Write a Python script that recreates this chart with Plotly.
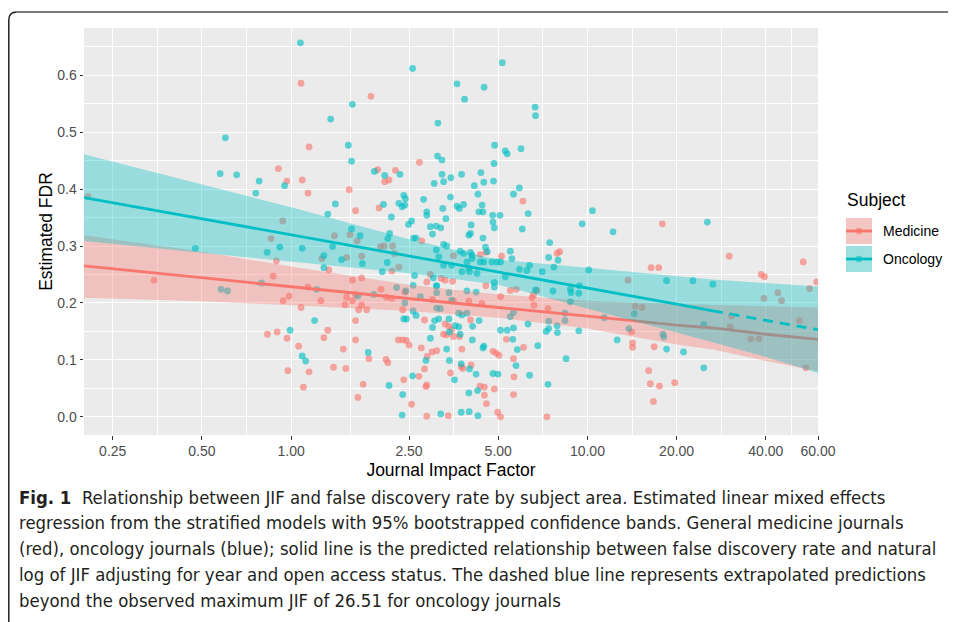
import numpy as np
import plotly.graph_objects as go

# ---------------- data ----------------
med_jif = [0.206, 0.345, 1.08, 1.86, 1.15, 0.906, 2.71,
           0.967, 1.09, 1.14, 1.57, 1.65, 1.96, 2.07, 2.14, 2.25, 1.98, 2.0, 2.06, 2.2, 2.23, 2.31, 2.19,
           1.58, 1.67, 1.4, 1.54, 1.73, 1.27, 1.34, 1.61, 1.73, 0.856, 0.937, 0.892, 0.87, 1.14, 0.983, 0.94,
           1.65, 1.54, 1.61, 2.01, 2.1, 2.19,
           1.26, 1.08, 1.52, 1.69, 1.73, 1.8, 1.65, 0.832, 0.897, 0.969, 1.33, 1.29, 1.65, 1.06, 1.5, 1.83,
           2.09, 2.12, 0.975, 1.15, 1.39, 1.53, 1.1, 1.75, 1.68, 2.3,
           6.06, 2.76, 4.35, 4.55, 5.13, 7.9, 8.06, 3.53, 2.95, 3.21, 3.31, 3.51, 4.54, 5.49, 5.75, 2.87,
           2.42, 5.09, 6.57, 7.36, 6.75, 6.5, 6.6,
           2.38, 2.82, 4.03, 3.31, 3.41, 3.48, 3.27, 3.35, 3.53, 3.70, 2.38, 2.45, 2.5, 2.75, 3.77, 4.8,
           4.92, 5.03, 3.1, 2.99, 2.88, 3.75, 3.8, 4.05, 5.33, 6.09, 5.63, 5.65, 5.63, 4.34, 4.49, 4.49,
           4.56, 4.85, 3.45, 2.82, 2.85, 2.87, 2.7, 2.4, 2.55, 2.87, 3.39, 4.98, 5.09, 7.3,
           3.53, 3.98, 3.0, 4.4,
           17.9, 30.1, 53.5, 16.4, 17.4, 38.6, 39.6, 59.4, 13.7, 43.9, 39.4, 45.2, 56.2, 30.6, 30.3, 35.6,
           37.9, 51.9, 54.6, 14.5, 15.3, 14.1, 14.2, 14.2, 16.8, 16.1, 16.3, 17.5, 16.7, 19.7]
med_fdr = [0.387, 0.240, 0.586, 0.563, 0.474, 0.436, 0.447,
           0.414, 0.416, 0.393, 0.399, 0.362, 0.434, 0.413, 0.416, 0.433, 0.367, 0.299, 0.300, 0.300, 0.287, 0.263, 0.256,
           0.320, 0.309, 0.318, 0.280, 0.282, 0.278, 0.258, 0.240, 0.244, 0.313, 0.344, 0.274, 0.247, 0.228, 0.212, 0.204,
           0.215, 0.210, 0.204, 0.224, 0.210, 0.208,
           0.204, 0.192, 0.197, 0.188, 0.196, 0.188, 0.169, 0.145, 0.149, 0.138, 0.152, 0.139, 0.135, 0.124, 0.119, 0.102,
           0.101, 0.095, 0.081, 0.079, 0.087, 0.085, 0.052, 0.057, 0.034, 0.135,
           0.379, 0.309, 0.285, 0.289, 0.282, 0.287, 0.290, 0.283, 0.250, 0.243, 0.240, 0.238, 0.230, 0.222, 0.224, 0.237,
           0.219, 0.211, 0.214, 0.190, 0.222, 0.209, 0.196,
           0.188, 0.170, 0.170, 0.163, 0.159, 0.153, 0.145, 0.144, 0.141, 0.141, 0.135, 0.134, 0.126, 0.121, 0.119, 0.115,
           0.112, 0.108, 0.116, 0.114, 0.106, 0.088, 0.085, 0.091, 0.136, 0.122, 0.102, 0.070, 0.039, 0.054, 0.052, 0.038,
           0.023, 0.049, 0.077, 0.084, 0.053, 0.056, 0.071, 0.065, 0.022, 0.001, 0.002, 0.008, 0.000, 0.000,
           0.203, 0.203, 0.206, 0.199,
           0.339, 0.282, 0.272, 0.262, 0.262, 0.250, 0.246, 0.237, 0.240, 0.218, 0.208, 0.204, 0.225, 0.177, 0.158, 0.137,
           0.137, 0.169, 0.086, 0.194, 0.192, 0.149, 0.130, 0.122, 0.123, 0.081, 0.058, 0.054, 0.027, 0.060]

onc_jif = [0.60, 0.576, 0.655, 0.475, 0.58, 0.61,
           1.075, 1.61, 1.36, 1.56, 1.6,
           2.57, 5.16, 3.63, 4.48, 3.85, 6.66, 6.68, 3.13, 4.86, 5.28, 5.36, 5.97, 3.12, 3.23, 4.84,
           0.78, 0.76, 0.95, 1.41, 1.33, 1.91, 2.07, 2.05, 2.18, 2.31, 2.12, 2.15, 2.11, 2.03, 2.27, 1.6,
           1.71, 1.38, 1.48, 1.74, 1.29, 1.29, 0.916, 1.09, 0.83, 0.794, 1.22, 1.68, 1.9,
           3.23, 3.27, 3.46, 3.76, 4.37, 4.47, 4.82, 4.15, 3.04, 2.4, 2.43, 2.33, 2.8, 3.45, 4.27, 5.89,
           5.63, 3.25, 3.63, 3.7, 3.82, 4.41, 4.3, 4.44, 2.87, 2.87, 3.33, 4.79, 5.07, 6.31, 2.42, 2.37,
           4.8, 4.85, 2.49, 2.55, 2.95, 3.09, 3.2, 4.05, 6.03, 3.0, 3.98, 4.03, 4.44, 2.59, 2.64, 7.46,
           3.27, 3.35, 3.72, 3.82, 4.03, 4.08, 3.09, 3.15, 5.49, 5.56, 7.4, 4.53, 4.59, 4.35, 4.47, 4.76,
           4.95, 5.09, 3.27, 3.48, 3.92, 4.08, 3.98, 4.0, 4.24, 3.77, 2.61, 3.02, 3.09, 5.9, 6.25, 7.04,
           7.7, 4.85, 4.85, 6.68, 7.65, 2.58, 2.44, 2.73, 3.1, 3.1, 3.41, 3.92, 4.21, 3.48,
           7.96, 6.38, 5.28, 5.63, 5.49, 7.4, 7.9, 8.4, 8.4,
           2.42, 2.64, 2.4, 2.45, 2.58, 3.05, 3.15, 3.41, 3.0, 3.19, 3.1, 3.68, 3.77, 3.92, 4.1, 4.31,
           3.42, 3.58, 3.68, 3.72, 2.95, 4.09, 4.47, 4.44, 3.35, 2.85, 3.42, 3.75, 4.0, 5.6, 5.8, 6.8,
           5.74, 8.47, 4.8, 4.99, 4.21, 6.38, 7.36, 4.26, 3.98, 3.56, 2.57, 2.38, 2.37, 3.2, 3.75, 3.99,
           4.27, 6.3, 5.09, 5.36, 5.63, 7.26, 7.92, 7.4,
           1.2, 0.992, 1.09, 1.12, 1.82, 2.14,
           10.4, 9.6, 12.2, 25.4, 10.1, 18.5, 22.7, 26.5, 14.4, 13.8, 12.6, 18.5, 21.1, 18.0, 18.1, 24.7,
           24.7, 9.35, 11.4, 9.4, 9.35, 8.76, 8.8, 8.76]
onc_fdr = [0.490, 0.427, 0.425, 0.296, 0.224, 0.221,
           0.657, 0.549, 0.523, 0.477, 0.449,
           0.612, 0.622, 0.585, 0.579, 0.558, 0.544, 0.529, 0.516, 0.477, 0.467, 0.462, 0.471, 0.458, 0.451, 0.445,
           0.414, 0.393, 0.406, 0.374, 0.356, 0.431, 0.424, 0.373, 0.351, 0.375, 0.313, 0.322, 0.271, 0.255, 0.227, 0.330,
           0.318, 0.299, 0.276, 0.269, 0.283, 0.262, 0.298, 0.296, 0.289, 0.235, 0.224, 0.212, 0.215,
           0.426, 0.413, 0.420, 0.426, 0.429, 0.412, 0.414, 0.406, 0.410, 0.389, 0.383, 0.426, 0.382, 0.386, 0.391, 0.402,
           0.391, 0.366, 0.370, 0.366, 0.373, 0.372, 0.360, 0.360, 0.360, 0.354, 0.348, 0.354, 0.354, 0.357, 0.372, 0.369,
           0.342, 0.332, 0.338, 0.344, 0.334, 0.335, 0.332, 0.337, 0.330, 0.321, 0.319, 0.322, 0.314, 0.314, 0.314, 0.306,
           0.303, 0.300, 0.291, 0.287, 0.289, 0.284, 0.293, 0.281, 0.291, 0.278, 0.280, 0.298, 0.290, 0.272, 0.272, 0.272,
           0.272, 0.272, 0.266, 0.266, 0.272, 0.278, 0.261, 0.255, 0.252, 0.255, 0.248, 0.244, 0.230, 0.259, 0.257, 0.255,
           0.263, 0.236, 0.228, 0.223, 0.221, 0.231, 0.221, 0.211, 0.230, 0.218, 0.218, 0.221, 0.219, 0.205,
           0.275, 0.266, 0.246, 0.183, 0.176, 0.155, 0.160, 0.182, 0.169,
           0.200, 0.178, 0.172, 0.172, 0.186, 0.169, 0.172, 0.172, 0.157, 0.190, 0.191, 0.182, 0.179, 0.182, 0.159, 0.169,
           0.149, 0.160, 0.158, 0.145, 0.138, 0.135, 0.124, 0.121, 0.119, 0.099, 0.099, 0.093, 0.084, 0.136, 0.118, 0.125,
           0.090, 0.102, 0.076, 0.075, 0.075, 0.073, 0.057, 0.046, 0.042, 0.065, 0.072, 0.039, 0.003, 0.005, 0.008, 0.009,
           0.002, 0.163, 0.152, 0.152, 0.156, 0.150, 0.148, 0.168,
           0.169, 0.152, 0.107, 0.098, 0.113, 0.055,
           0.362, 0.339, 0.325, 0.342, 0.258, 0.239, 0.239, 0.233, 0.181, 0.155, 0.135, 0.119, 0.114, 0.145, 0.140, 0.086,
           0.162, 0.151, 0.174, 0.230, 0.217, 0.224, 0.218, 0.202]

# fitted lines and 95% bands
fit_jif = [0.2, 0.5, 1, 2.5, 5, 10, 20, 26.51, 40, 60]
med_fit = [0.265, 0.244, 0.229, 0.208, 0.192, 0.177, 0.161, 0.156, 0.145, 0.136]
med_lo = [0.209, 0.203, 0.196, 0.186, 0.174, 0.155, 0.127, 0.118, 0.098, 0.080]
med_hi = [0.319, 0.290, 0.264, 0.232, 0.215, 0.204, 0.198, 0.196, 0.194, 0.192]
onc_fit = [0.385, 0.348, 0.320, 0.282, 0.254, 0.226, 0.198, 0.186, 0.170, 0.153]
onc_lo = [0.309, 0.288, 0.272, 0.252, 0.232, 0.190, 0.148, 0.131, 0.105, 0.077]
onc_hi = [0.461, 0.408, 0.368, 0.312, 0.276, 0.262, 0.248, 0.241, 0.235, 0.229]
onc_max_jif = 26.51

x_ticks = [0.25, 0.5, 1, 2.5, 5, 10, 20, 40, 60]
x_ticklabels = ["0.25", "0.50", "1.00", "2.50", "5.00", "10.00", "20.00", "40.00", "60.00"]
y_ticks = [0.0, 0.1, 0.2, 0.3, 0.4, 0.5, 0.6]
subjects = ["Medicine", "Oncology"]
legend_title = "Subject"

caption_lines = [
    "<b>Fig. 1</b>\u00a0\u00a0Relationship between JIF and false discovery rate by subject area. Estimated linear mixed effects",
    "regression from the stratified models with 95% bootstrapped confidence bands. General medicine journals",
    "(red), oncology journals (blue); solid line is the predicted relationship between false discovery rate and natural",
    "log of JIF adjusting for year and open access status. The dashed blue line represents extrapolated predictions",
    "beyond the observed maximum JIF of 26.51 for oncology journals",
]

# ---------------- styling ----------------
RED, TEAL = "#F8766D", "#00BFC4"
RED_BAND, TEAL_BAND = "rgba(248,118,109,0.35)", "rgba(0,191,196,0.35)"
FONT = "Liberation Sans, Arial, Helvetica, sans-serif"
CAP_FONT = "DejaVu Sans Condensed, Liberation Sans Narrow, sans-serif"
OFF = 8                      # page body margin of the html page
W, H = 956 - OFF, 622 - OFF
L, T = 84 - OFF, 28 - OFF
PW, PH = 734, 407
R, B = W - L - PW, H - T - PH


def px_x(p):
    """page pixel (reference) -> paper x"""
    return (p - OFF - L) / PW


def px_y(p):
    """page pixel (reference) -> paper y"""
    return (T + PH - (p - OFF)) / PH


fig = go.Figure()

fig.add_trace(go.Scatter(x=med_jif, y=med_fdr, mode="markers", showlegend=False,
                         marker=dict(color=RED, size=6.8, opacity=0.62, line=dict(width=0))))
fig.add_trace(go.Scatter(x=onc_jif, y=onc_fdr, mode="markers", showlegend=False,
                         marker=dict(color=TEAL, size=6.8, opacity=0.62, line=dict(width=0))))

# medicine band + line
fig.add_trace(go.Scatter(x=fit_jif + fit_jif[::-1], y=med_hi + med_lo[::-1], fill="toself",
                         fillcolor=RED_BAND, line=dict(width=0), mode="lines", showlegend=False,
                         hoverinfo="skip"))
fig.add_trace(go.Scatter(x=fit_jif, y=med_fit, mode="lines", line=dict(color=RED, width=2.8),
                         showlegend=False))
# oncology band + lines
fig.add_trace(go.Scatter(x=fit_jif + fit_jif[::-1], y=onc_hi + onc_lo[::-1], fill="toself",
                         fillcolor=TEAL_BAND, line=dict(width=0), mode="lines", showlegend=False,
                         hoverinfo="skip"))
solid = [i for i, v in enumerate(fit_jif) if v <= onc_max_jif]
dashed = [i for i, v in enumerate(fit_jif) if v >= onc_max_jif]
fig.add_trace(go.Scatter(x=[fit_jif[i] for i in solid], y=[onc_fit[i] for i in solid], mode="lines",
                         line=dict(color=TEAL, width=2.8), showlegend=False))
fig.add_trace(go.Scatter(x=[fit_jif[i] for i in dashed], y=[onc_fit[i] for i in dashed], mode="lines",
                         line=dict(color=TEAL, width=2.8, dash="10px,7px"), showlegend=False))

minor_x = list(np.sqrt(np.array(x_ticks[:-1]) * np.array(x_ticks[1:])))
minor_y = [v + 0.05 for v in y_ticks]

fig.update_layout(
    width=W, height=H, showlegend=False,
    margin=dict(l=L, r=R, t=T, b=B, autoexpand=False),
    paper_bgcolor="white", plot_bgcolor="#EBEBEB",
    font=dict(family=FONT, color="#000000", size=14),
    xaxis=dict(type="log", range=[np.log10(0.2), np.log10(60)], tickmode="array",
               tickvals=x_ticks, ticktext=x_ticklabels, ticks="outside", ticklen=3.5,
               tickcolor="#333333", tickwidth=1, tickfont=dict(size=14, color="#4D4D4D"),
               showgrid=True, gridcolor="white", gridwidth=1.2, zeroline=False, showline=False,
               minor=dict(tickmode="array", tickvals=minor_x, showgrid=True, gridcolor="white",
                          gridwidth=0.55, ticks=""),
               title=dict(text="Journal Impact Factor", font=dict(size=17.5), standoff=5)),
    yaxis=dict(range=[-0.032, 0.683], tickmode="array", tickvals=y_ticks, tickformat=".1f",
               ticks="outside", ticklen=3.5, tickcolor="#333333", tickwidth=1,
               tickfont=dict(size=14, color="#4D4D4D"),
               showgrid=True, gridcolor="white", gridwidth=1.2, zeroline=False, showline=False,
               minor=dict(tickmode="array", tickvals=minor_y, showgrid=True, gridcolor="white",
                          gridwidth=0.55, ticks=""),
               title=dict(text="Estimated FDR", font=dict(size=17.5), standoff=0)),
)

# ---- legend (ggplot style keys) ----
fig.add_annotation(text=legend_title, xref="paper", yref="paper", x=px_x(845), y=px_y(200),
                   xanchor="left", yanchor="middle", showarrow=False, font=dict(size=17.5))
key_left, key_size = 846, 26
for name, col, band, top in zip(subjects, [RED, TEAL], [RED_BAND, TEAL_BAND], [218, 246]):
    x0, x1 = px_x(key_left), px_x(key_left + key_size)
    y0, y1 = px_y(top + key_size), px_y(top)
    yc = px_y(top + key_size / 2)
    fig.add_shape(type="rect", xref="paper", yref="paper", x0=x0, x1=x1, y0=y0, y1=y1,
                  fillcolor="#F2F2F2", line=dict(width=0))
    fig.add_shape(type="rect", xref="paper", yref="paper", x0=x0, x1=x1, y0=y0, y1=y1,
                  fillcolor=band, line=dict(width=0))
    fig.add_shape(type="line", xref="paper", yref="paper", x0=x0, x1=x1, y0=yc, y1=yc,
                  line=dict(color=col, width=2.8))
    cx, cy, rr = key_left + key_size / 2, top + key_size / 2, 3.3
    fig.add_shape(type="circle", xref="paper", yref="paper",
                  x0=px_x(cx - rr), x1=px_x(cx + rr), y0=px_y(cy + rr), y1=px_y(cy - rr),
                  fillcolor=col, opacity=0.62, line=dict(width=0))
    fig.add_annotation(text=name, xref="paper", yref="paper", x=px_x(881), y=yc,
                       xanchor="left", yanchor="middle", showarrow=False, font=dict(size=14))

# figure frame (rounded corner at top-left)
fx, fy, rc = 8.8, 12, 8
fig.add_shape(type="path", xref="paper", yref="paper",
              path=f"M {px_x(fx)},{px_y(640)} L {px_x(fx)},{px_y(fy + rc)} "
                   f"Q {px_x(fx)},{px_y(fy)} {px_x(fx + rc)},{px_y(fy)}",
              line=dict(color="#222222", width=1.5))
fig.add_shape(type="line", xref="paper", yref="paper", x0=px_x(fx + rc), y0=px_y(fy),
              x1=px_x(970), y1=px_y(fy), line=dict(color="#7A7A7A", width=2))

# caption
line_y = [497, 522, 548, 574, 600]
for txt, yy in zip(caption_lines, line_y):
    fig.add_annotation(text=txt, xref="paper", yref="paper", x=px_x(17), y=px_y(yy),
                       xanchor="left", yanchor="middle", showarrow=False,
                       font=dict(family=CAP_FONT, size=18.4, color="#231F20"))

fig.write_html("out.html")
